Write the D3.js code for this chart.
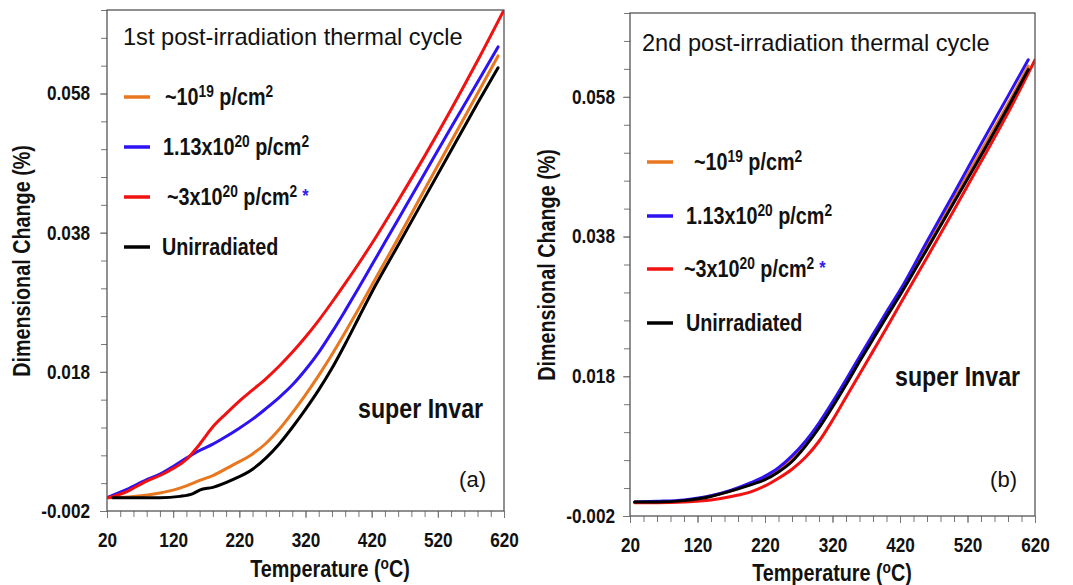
<!DOCTYPE html>
<html>
<head>
<meta charset="utf-8">
<script src="https://cdn.jsdelivr.net/npm/d3@7"></script>
<style>
  body { margin: 0; background: #fff; }
  svg { display: block; }
</style>
</head>
<body>
<div id="chart"></div>
<script>
// ========== DATA ==========
const tempLabels = [20, 120, 220, 320, 420, 520, 620];
const dimLabels = [-0.002, 0.018, 0.038, 0.058];
const seriesLabels = ["~10^{19} p/cm^{2}", "1.13x10^{20} p/cm^{2}", "~3x10^{20} p/cm^{2}", "Unirradiated"];
const panelTitles = ["1st post-irradiation thermal cycle", "2nd post-irradiation thermal cycle"];
const panelTags = ["(a)", "(b)"];

// panel (a): first cycle, [temperature degC, dimensional change %]
const firstLow = [[22,-0.0001],[60,0.0001],[100,0.0006],[120,0.0010],[140,0.0016],[160,0.0024],[180,0.0031],[210,0.0046],[240,0.0062],[260,0.0077],[280,0.0097],[300,0.0121],[320,0.0147],[340,0.0175],[360,0.0205],[380,0.0237],[400,0.0270],[420,0.0304],[460,0.0372],[500,0.0442],[540,0.0511],[580,0.0580],[611,0.0634]];
const firstMid = [[22,0.0],[50,0.0011],[80,0.0025],[100,0.0033],[120,0.0044],[140,0.0056],[160,0.0067],[180,0.0076],[200,0.0087],[220,0.0099],[240,0.0112],[260,0.0127],[280,0.0143],[300,0.0161],[320,0.0183],[340,0.0208],[360,0.0237],[380,0.0268],[400,0.0300],[420,0.0333],[460,0.0399],[500,0.0465],[540,0.0531],[580,0.0596],[611,0.0647]];
const firstHigh = [[22,-0.0001],[50,0.0008],[80,0.0023],[100,0.0031],[120,0.0041],[140,0.0054],[160,0.0076],[180,0.0101],[200,0.0120],[220,0.0138],[240,0.0154],[260,0.0170],[280,0.0188],[300,0.0208],[320,0.0230],[340,0.0254],[360,0.0280],[380,0.0307],[400,0.0335],[420,0.0364],[460,0.0426],[500,0.0490],[540,0.0557],[580,0.0627],[620,0.0700]];
const firstUnirr = [[29,-0.0001],[60,-0.0001],[100,-0.0001],[130,0.0001],[150,0.0005],[160,0.0010],[180,0.0014],[210,0.0025],[240,0.0040],[260,0.0056],[280,0.0076],[300,0.0100],[320,0.0126],[340,0.0154],[360,0.0185],[380,0.0220],[400,0.0257],[420,0.0294],[460,0.0362],[500,0.0430],[540,0.0498],[580,0.0566],[611,0.0617]];

// panel (b): second cycle
const secondLow = [[27,0.0],[100,0.0002],[140,0.0009],[170,0.0016],[200,0.0027],[220,0.0035],[240,0.0047],[260,0.0062],[280,0.0084],[300,0.0110],[320,0.0140],[340,0.0172],[360,0.0205],[380,0.0237],[400,0.0268],[420,0.0300],[460,0.0366],[500,0.0434],[540,0.0502],[580,0.0570],[610,0.0624]];
const secondMid = [[27,0.0],[60,0.0001],[100,0.0003],[140,0.0009],[170,0.0017],[200,0.0028],[220,0.0037],[240,0.0049],[260,0.0066],[280,0.0087],[300,0.0113],[320,0.0143],[340,0.0175],[360,0.0208],[380,0.0240],[400,0.0272],[420,0.0303],[460,0.0373],[500,0.0442],[540,0.0512],[580,0.0581],[610,0.0633]];
const secondHigh = [[27,-0.0001],[60,-0.0001],[100,0.0],[140,0.0003],[170,0.0008],[200,0.0015],[220,0.0023],[240,0.0034],[260,0.0047],[280,0.0064],[300,0.0087],[320,0.0117],[340,0.0150],[360,0.0183],[380,0.0216],[400,0.0249],[420,0.0283],[460,0.0350],[500,0.0418],[540,0.0487],[580,0.0557],[620,0.0633]];
const secondUnirr = [[27,0.0],[60,0.0],[100,0.0002],[140,0.0008],[170,0.0016],[200,0.0025],[220,0.0032],[240,0.0043],[260,0.0058],[280,0.0080],[300,0.0106],[320,0.0136],[340,0.0168],[360,0.0201],[380,0.0233],[400,0.0265],[420,0.0296],[460,0.0362],[500,0.0429],[540,0.0496],[580,0.0565],[610,0.0619]];

const seriesColors = ["#e8771f", "#2d12f2", "#f21111", "#000000"];

// ========== SVG ==========
const W = 1073, H = 585;
const FONT = "'Liberation Sans', Arial, sans-serif";
const SX = 0.86;   // horizontal squeeze for the narrow bold labels

const svg = d3.select("#chart").append("svg")
  .attr("width", W)
  .attr("height", H)
  .attr("viewBox", `0 0 ${W} ${H}`);

// writes "a^{b}" style label into a text node as tspans
function richText(text, label, supSize, rise) {
  const parts = label.split(/(\^\{[^}]*\})/).filter(p => p.length);
  let pendingDy = 0;
  parts.forEach(p => {
    if (p.startsWith("^{")) {
      text.append("tspan")
        .attr("dy", pendingDy - rise)
        .style("font-size", supSize + "px")
        .text(p.slice(2, -1));
      pendingDy = rise;
    } else {
      text.append("tspan").attr("dy", pendingDy).text(p);
      pendingDy = 0;
    }
  });
  return pendingDy;
}

function boldStyle(sel, size) {
  return sel.style("font-family", FONT).style("font-weight", "bold")
    .style("font-size", size + "px").attr("fill", "#111");
}

// bold condensed text placed at x,y (optionally rotated)
function narrowText(parent, x, y, size, rotate) {
  const rot = rotate ? ` rotate(${rotate})` : "";
  return boldStyle(parent.append("text"), size)
    .attr("transform", `translate(${x},${y})${rot} scale(${SX},1)`);
}

function drawPanel(opt) {
  const x = d3.scaleLinear().domain([20, 620]).range([opt.left, opt.right]);
  const y = d3.scaleLinear().domain([-0.002, 0.070]).range([opt.bottom, opt.top]);
  const g = svg.append("g");

  // minor ticks
  const xMinor = d3.range(0, 31).map(i => 20 + i * 20);
  const yMinor = d3.range(0, 19).map(i => -0.002 + i * 0.004);

  const xAxis = g.append("g")
    .attr("transform", `translate(0,${opt.bottom})`)
    .call(d3.axisBottom(x).tickValues(xMinor).tickSize(6).tickFormat(""));
  xAxis.select(".domain").remove();
  xAxis.selectAll("line").attr("stroke", "#777");

  const xLab = g.append("g")
    .attr("transform", `translate(0,${opt.bottom})`)
    .call(d3.axisBottom(x).tickValues(tempLabels).tickSize(7).tickPadding(15).tickFormat(d3.format("d")));
  xLab.select(".domain").remove();
  xLab.selectAll("line").attr("stroke", "#777");
  boldStyle(xLab.selectAll("text"), 20).attr("transform", `scale(${SX},1)`);

  const yAxis = g.append("g")
    .attr("transform", `translate(${opt.left},0)`)
    .call(d3.axisLeft(y).tickValues(yMinor).tickSize(6).tickFormat(""));
  yAxis.select(".domain").remove();
  yAxis.selectAll("line").attr("stroke", "#777");

  const yLab = g.append("g")
    .attr("transform", `translate(${opt.left},0)`)
    .call(d3.axisLeft(y).tickValues(dimLabels).tickSize(7).tickPadding(opt.yPad).tickFormat(d => d.toFixed(3)));
  yLab.select(".domain").remove();
  yLab.selectAll("line").attr("stroke", "#777");
  boldStyle(yLab.selectAll("text"), 20)
    .attr("x", -(7 + opt.yPad) / SX)
    .attr("transform", `scale(${SX},1)`);

  // curves
  const line = d3.line()
    .x(d => x(d[0]))
    .y(d => y(d[1]))
    .curve(d3.curveMonotoneX);

  const clipId = "clip-" + opt.tag.replace(/\W/g, "");
  svg.append("clipPath").attr("id", clipId)
    .append("rect")
    .attr("x", opt.left).attr("y", opt.top)
    .attr("width", opt.right - opt.left).attr("height", opt.bottom - opt.top);

  const lines = g.append("g").attr("clip-path", `url(#${clipId})`);
  opt.series.forEach((s, i) => {
    lines.append("path")
      .datum(s)
      .attr("d", line)
      .attr("fill", "none")
      .attr("stroke", seriesColors[i])
      .attr("stroke-width", 3)
      .attr("stroke-linejoin", "round")
      .attr("stroke-linecap", "round");
  });

  // frame
  g.append("rect")
    .attr("x", opt.left).attr("y", opt.top)
    .attr("width", opt.right - opt.left).attr("height", opt.bottom - opt.top)
    .attr("fill", "none")
    .attr("stroke", "#555")
    .attr("stroke-width", 1.3);

  // title in the plot
  g.append("text")
    .attr("x", opt.titleX).attr("y", opt.titleY)
    .style("font-family", FONT).style("font-size", "23.6px").attr("fill", "#111")
    .text(opt.title);

  // legend
  opt.legend.forEach((l, i) => {
    g.append("line")
      .attr("x1", opt.legX1).attr("x2", opt.legX2)
      .attr("y1", l.y).attr("y2", l.y)
      .attr("stroke", seriesColors[i])
      .attr("stroke-width", 3.5);
    const t = narrowText(g, l.tx, l.y + 8, 23);
    const back = richText(t, seriesLabels[i], 16, 8);
    if (i === 2) {
      t.append("tspan").attr("dx", 6).attr("dy", back - 3)
        .attr("fill", "#3322ee").style("font-size", "19px").text("*");
    }
  });

  // material and tag
  narrowText(g, opt.matX, opt.matY, 27).text("super Invar");
  g.append("text")
    .attr("x", opt.right - 18).attr("y", opt.tagY)
    .attr("text-anchor", "end")
    .style("font-family", FONT).style("font-size", "22px")
    .attr("fill", "#111")
    .text(opt.tag);

  // axis titles
  const xt = narrowText(g, opt.xTitleX, opt.xTitleY, 23).attr("text-anchor", "middle");
  xt.append("tspan").text("Temperature (");
  xt.append("tspan").attr("dy", -8).style("font-size", "16px").text("o");
  xt.append("tspan").attr("dy", 8).text("C)");

  narrowText(g, opt.yTitleX, opt.yTitleY, 23, -90)
    .attr("text-anchor", "middle")
    .text("Dimensional Change (%)");
}

drawPanel({
  left: 107, right: 504, top: 10, bottom: 511,
  yPad: 10,
  series: [firstLow, firstMid, firstHigh, firstUnirr],
  title: panelTitles[0], titleX: 123, titleY: 45,
  legX1: 124, legX2: 150,
  legend: [{ y: 97, tx: 165 }, { y: 147, tx: 163 }, { y: 197, tx: 167 }, { y: 247, tx: 162 }],
  matX: 358, matY: 418,
  tag: panelTags[0], tagY: 487,
  xTitleX: 330, xTitleY: 577,
  yTitleX: 30, yTitleY: 261
});

drawPanel({
  left: 630, right: 1035, top: 13, bottom: 516,
  yPad: 8,
  series: [secondLow, secondMid, secondHigh, secondUnirr],
  title: panelTitles[1], titleX: 642, titleY: 51,
  legX1: 647, legX2: 673,
  legend: [{ y: 162, tx: 694 }, { y: 216, tx: 686 }, { y: 269, tx: 684 }, { y: 323, tx: 686 }],
  matX: 895, matY: 386,
  tag: panelTags[1], tagY: 487,
  xTitleX: 832, xTitleY: 581,
  yTitleX: 555, yTitleY: 265
});
</script>
</body>
</html>
